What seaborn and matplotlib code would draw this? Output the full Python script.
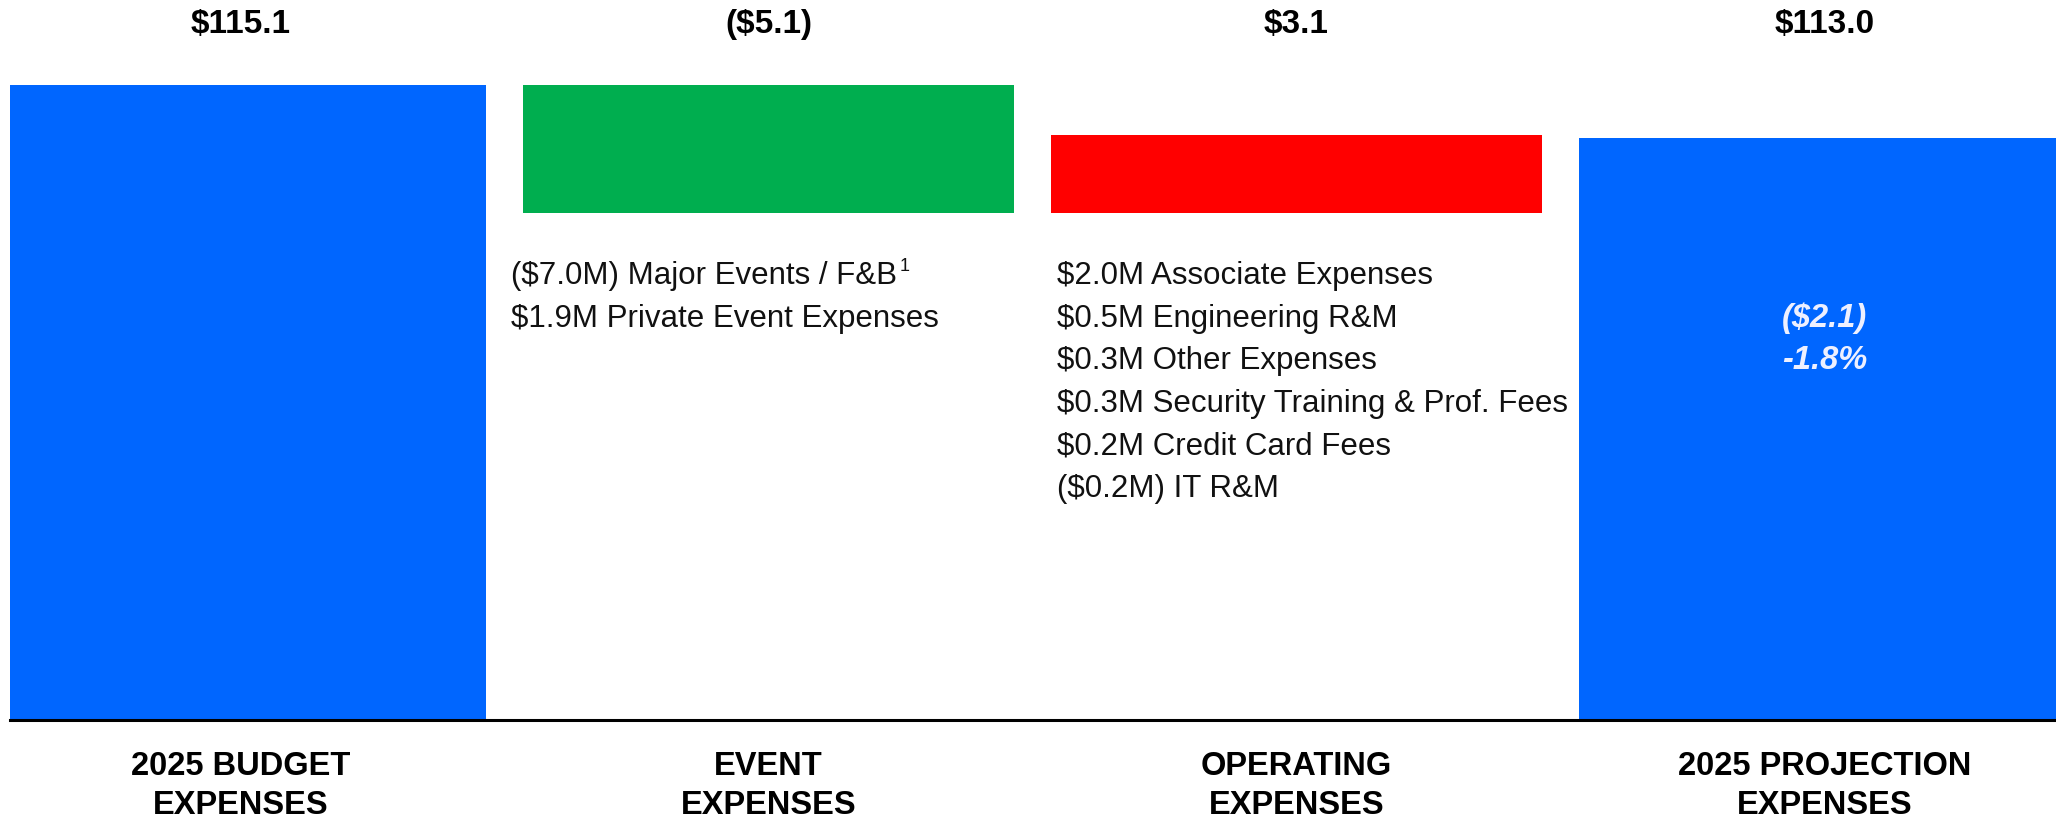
import matplotlib
matplotlib.use("Agg")
import matplotlib.pyplot as plt
import seaborn as sns
import pandas as pd

# chart data
categories = ["2025 BUDGET\nEXPENSES", "EVENT\nEXPENSES", "OPERATING\nEXPENSES", "2025 PROJECTION\nEXPENSES"]
bar_tops = [115.1, 115.1, 113.1, 113.0]
bar_bases = [0.0, 110.0, 110.0, 0.0]
value_labels = ["$115.1", "($5.1)", "$3.1", "$113.0"]
bar_colors = ["#0066FF", "#00AE4F", "#FF0000", "#0066FF"]
event_notes = ["($7.0M) Major Events / F&B", "$1.9M Private Event Expenses"]
operating_notes = ["$2.0M Associate Expenses", "$0.5M Engineering R&M", "$0.3M Other Expenses",
                   "$0.3M Security Training & Prof. Fees", "$0.2M Credit Card Fees", "($0.2M) IT R&M"]
variance_labels = ["($2.1)", "-1.8%"]

df = pd.DataFrame({"category": categories,
                   "base": bar_bases,
                   "height": [t - b for t, b in zip(bar_tops, bar_bases)]})

sns.set_theme(style="white")
plt.rcParams["font.family"] = ["Liberation Sans", "DejaVu Sans"]

W, H = 2056, 822
fig = plt.figure(figsize=(W / 100, H / 100), dpi=100)
base_px = 720
ax = fig.add_axes([10 / W, 1 - base_px / H, (W - 10) / W, base_px / H])

sns.barplot(data=df, x="category", y="height", bottom=df["base"].values, color=bar_colors[0],
            width=0.93, errorbar=None, saturation=1, ax=ax)
for p, c in zip(ax.patches, bar_colors):
    p.set_facecolor(c)
    p.set_edgecolor("none")

ax.set_ylim(89.75, 118.5)
ax.set_xlim(-0.4375, 3.439)
ax.set_xlabel("")
ax.set_ylabel("")
ax.set_yticks([])
ax.tick_params(axis="x", length=0, pad=22, labelsize=23.5)
for lbl in ax.get_xticklabels():
    lbl.set_fontweight("bold")
    lbl.set_linespacing(1.34)
    lbl.set_color("black")
sns.despine(ax=ax, left=True)
ax.spines["bottom"].set_linewidth(2.2)
ax.spines["bottom"].set_color("black")

# value labels above the bars
xt = ax.get_xaxis_transform()
for i, v in enumerate(value_labels):
    ax.text(i, (base_px - 24) / base_px, v, transform=xt, ha="center", va="center",
            fontsize=24, fontweight="bold", color="black", parse_math=False)

# variance inside the projection bar
for j, v in enumerate(variance_labels):
    ax.text(3, (base_px - 318 - j * 42) / base_px, v, transform=xt, ha="center", va="center",
            fontsize=23.5, fontweight="bold", fontstyle="italic", color="#EEF0FF",
            parse_math=False)

# driver notes below the floating bars
line_step = 42.6
for j, note in enumerate(event_notes):
    t = fig.text(511 / W, 1 - (276 + j * line_step) / H, note, ha="left", va="center",
                 fontsize=22.5, color="#111111", parse_math=False)
    if j == 0:
        ax.annotate("1", xy=(1, 1), xycoords=t, xytext=(2, 2), textcoords="offset points",
                    ha="left", va="top", fontsize=13, color="#111111")
for j, note in enumerate(operating_notes):
    fig.text(1057 / W, 1 - (276 + j * line_step) / H, note, ha="left", va="center",
             fontsize=22.5, color="#111111", parse_math=False)

fig.savefig("out.png", dpi=100)
